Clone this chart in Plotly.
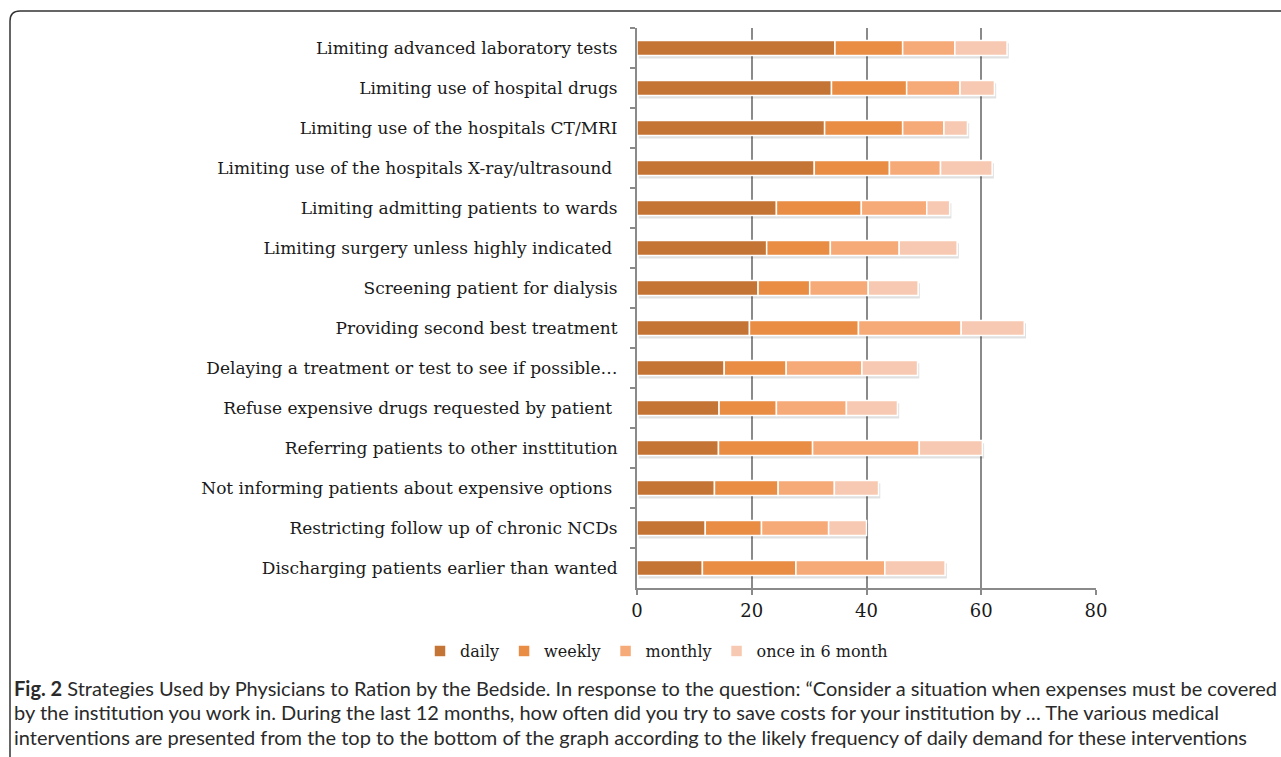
import plotly.graph_objects as go

categories = [
    "Limiting advanced laboratory tests",
    "Limiting use of hospital drugs",
    "Limiting use of the hospitals CT/MRI",
    "Limiting use of the hospitals X-ray/ultrasound ",
    "Limiting admitting patients to wards",
    "Limiting surgery unless highly indicated ",
    "Screening patient for dialysis",
    "Providing second best treatment",
    "Delaying a treatment or test to see if possible…",
    "Refuse expensive drugs requested by patient ",
    "Referring patients to other insttitution",
    "Not informing patients about expensive options ",
    "Restricting follow up of chronic NCDs",
    "Discharging patients earlier than wanted",
]
daily   = [34.5, 33.9, 32.7, 30.9, 24.3, 22.6, 21.1, 19.6, 15.2, 14.3, 14.2, 13.5, 11.9, 11.4]
weekly  = [11.8, 13.1, 13.6, 13.1, 14.8, 11.1, 9.0, 19.0, 10.8, 10.0, 16.4, 11.1, 9.8, 16.3]
monthly = [9.1, 9.3, 7.2, 8.9, 11.4, 12.0, 10.2, 17.9, 13.2, 12.2, 18.6, 9.8, 11.7, 15.5]
six_month = [9.1, 6.0, 4.1, 9.0, 4.0, 10.1, 8.7, 11.0, 9.7, 8.9, 11.0, 7.7, 6.6, 10.5]
series_names = ["daily", "weekly", "monthly", "once in 6 month"]
x_ticks = [0, 20, 40, 60, 80]
caption_lines = [
    "<b>Fig. 2</b> Strategies Used by Physicians to Ration by the Bedside. In response to the question: \u201cConsider a situation when expenses must be covered",
    "by the institution you work in. During the last 12 months, how often did you try to save costs for your institution by \u2026 The various medical",
    "interventions are presented from the top to the bottom of the graph according to the likely frequency of daily demand for these interventions",
]

colors = ["#C47535", "#E88D43", "#F6AA78", "#F8C9B2"]
W, H = 1281, 757
L, R, T, B = 637, 185, 28, 169
PW, PH = W - L - R, H - T - B

def px_x(p):
    return (p - L) / PW

def px_y(p):
    return (H - B - p) / PH

serif = "DejaVu Serif"
bar_w = 0.38

fig = go.Figure()
series = [daily, weekly, monthly, six_month]
totals = [sum(v) for v in zip(*series)]
fig.add_trace(go.Bar(
    y=categories, x=totals, orientation="h", width=bar_w,
    offset=-bar_w / 2 + 0.07, base=0.3,
    marker=dict(color="rgba(0,0,0,0.12)", line=dict(width=0)),
    showlegend=False, hoverinfo="skip",
))
bases = [0.0] * len(categories)
for name, vals, col in zip(series_names, series, colors):
    fig.add_trace(go.Bar(
        y=categories, x=vals, base=list(bases), name=name, orientation="h",
        width=bar_w, offset=-bar_w / 2,
        marker=dict(color=col, line=dict(color="white", width=1.5)),
    ))
    bases = [b + v for b, v in zip(bases, vals)]

fig.update_layout(
    barmode="overlay",
    width=W, height=H,
    margin=dict(l=L, r=R, t=T, b=B, autoexpand=False),
    paper_bgcolor="white", plot_bgcolor="white",
    font=dict(family=serif, size=17, color="#1a1a1a"),
    showlegend=True,
    legend=dict(
        orientation="h", x=px_x(420), xanchor="left", y=px_y(651), yanchor="middle",
        font=dict(family=serif, size=16, color="#1a1a1a"),
        traceorder="normal", itemwidth=30,
    ),
    xaxis=dict(
        range=[0, 80], tickvals=x_ticks, showgrid=True, gridcolor="#8a8a8a", gridwidth=2,
        zeroline=False, showline=True, linecolor="#8a8a8a", linewidth=2,
        ticks="outside", ticklen=5, tickcolor="#8a8a8a", tickwidth=2,
        tickfont=dict(family=serif, size=18, color="#1a1a1a"),
        fixedrange=True,
    ),
    yaxis=dict(
        autorange="reversed", showline=True, linecolor="#8a8a8a", linewidth=2,
        ticks="outside", tickson="boundaries", ticklen=5, tickcolor="#8a8a8a", tickwidth=2,
        showgrid=False, tickfont=dict(family=serif, size=17, color="#1a1a1a"),
        ticklabelstandoff=14, fixedrange=True,
    ),
)

for i, line in enumerate(caption_lines):
    fig.add_annotation(
        text=line, xref="paper", yref="paper", x=px_x(12), y=px_y([688, 712, 737][i]),
        xanchor="left", yanchor="middle", showarrow=False,
        font=dict(family="Lato", size=20, color="#2a2a2a"),
    )

x0, y0 = px_x(10), px_y(11)
rx, ry = 10 / PW, 10 / PH
xr, yb = px_x(1295), px_y(775)
fig.add_shape(
    type="path", xref="paper", yref="paper",
    path=f"M {x0},{yb} L {x0},{y0 - ry} Q {x0},{y0} {x0 + rx},{y0} L {xr},{y0}",
    line=dict(color="#333333", width=1.5), layer="above",
)

fig.write_html("out.html", config={"displayModeBar": False},
               post_script="document.body.style.margin='0';")
